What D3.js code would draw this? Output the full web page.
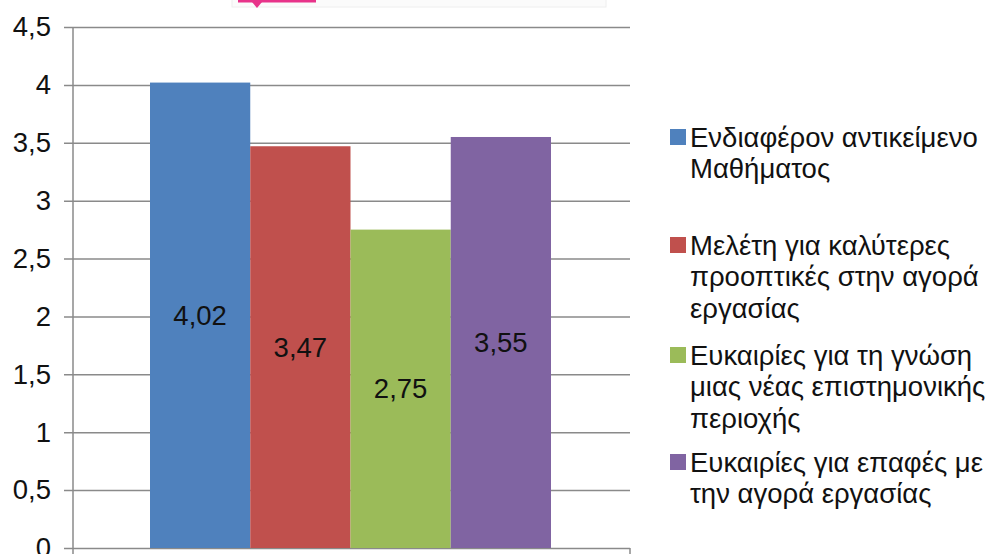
<!DOCTYPE html>
<html>
<head>
<meta charset="utf-8">
<script src="https://cdn.jsdelivr.net/npm/d3@7"></script>
<style>
  body { margin: 0; background: #fff; }
  svg { display: block; font-family: "Liberation Sans", Arial, sans-serif; }
</style>
</head>
<body>
<div class="barchart"></div>
<script>
const categories = [
    "Ενδιαφέρον αντικείμενο Μαθήματος",
    "Μελέτη για καλύτερες προοπτικές στην αγορά εργασίας",
    "Ευκαιρίες για τη γνώση μιας νέας επιστημονικής περιοχής",
    "Ευκαιρίες για επαφές με την αγορά εργασίας"
];
const values = [4.02, 3.47, 2.75, 3.55];
const colors = ["#4f81bd", "#c0504d", "#9bbb59", "#8064a2"];
const yTicks = [0, 0.5, 1, 1.5, 2, 2.5, 3, 3.5, 4, 4.5];
const legendLines = [
    ["Ενδιαφέρον αντικείμενο", "Μαθήματος"],
    ["Μελέτη για καλύτερες", "προοπτικές στην αγορά", "εργασίας"],
    ["Ευκαιρίες για τη γνώση", "μιας νέας επιστημονικής", "περιοχής"],
    ["Ευκαιρίες για επαφές με", "την αγορά εργασίας"]
];

const width = 997, height = 554;
const plot = {left: 73, right: 630, top: 27, bottom: 548};
const comma = d => String(d).replace(".", ",");

const svg = d3.select(".barchart")
    .append("svg")
    .attr("width", width)
    .attr("height", height);

// bit of a cropped box at the very top
svg.append("rect")
    .attr("x", 232).attr("y", -10)
    .attr("width", 374).attr("height", 17)
    .attr("fill", "#fbfbfb")
    .attr("stroke", "#eeeeee");
svg.append("line")
    .attr("x1", 238).attr("x2", 316)
    .attr("y1", 1).attr("y2", 1)
    .attr("stroke", "#e8338a").attr("stroke-width", 3);
svg.append("path")
    .attr("d", "M252,2 L262,2 L257,8 Z")
    .attr("fill", "#e8338a");

const y = d3.scaleLinear()
    .domain([0, 4.5])
    .range([plot.bottom, plot.top]);

const x = d3.scaleBand()
    .domain(categories)
    .range([150, 551])
    .padding(0);

// gridlines + ticks
svg.append("g")
    .attr("transform", `translate(${plot.left},0)`)
    .call(d3.axisLeft(y)
        .tickValues(yTicks)
        .tickSize(-(plot.right - plot.left))
        .tickPadding(22)
        .tickFormat(comma))
    .call(g => g.select(".domain").remove())
    .call(g => g.selectAll(".tick line")
        .attr("stroke", "#8a8a8a")
        .attr("x1", -9)
        .attr("stroke-width", 1.5))
    .call(g => g.selectAll(".tick text")
        .attr("font-size", 27.5)
        .attr("fill", "#111")
        .attr("font-family", "Liberation Sans, Arial, sans-serif"));

// axis lines
svg.append("line")
    .attr("x1", plot.left).attr("x2", plot.left)
    .attr("y1", plot.top).attr("y2", height)
    .attr("stroke", "#8a8a8a").attr("stroke-width", 1.5);
svg.append("line")
    .attr("x1", plot.right).attr("x2", plot.right)
    .attr("y1", plot.bottom).attr("y2", height)
    .attr("stroke", "#8a8a8a").attr("stroke-width", 1.5);

// bars
svg.append("g")
    .selectAll("rect")
    .data(values)
    .join("rect")
    .attr("x", (d, i) => x(categories[i]))
    .attr("y", d => y(d))
    .attr("width", x.bandwidth())
    .attr("height", d => y(0) - y(d))
    .attr("fill", (d, i) => colors[i]);

// value labels
svg.append("g")
    .attr("font-size", 27.5)
    .attr("text-anchor", "middle")
    .attr("fill", "#111")
    .selectAll("text")
    .data(values)
    .join("text")
    .attr("x", (d, i) => x(categories[i]) + x.bandwidth() / 2)
    .attr("y", d => (y(d) + y(0)) / 2)
    .attr("dy", "0.35em")
    .text(comma);

// legend
const legendY = [137, 245, 355, 462];
const legend = svg.append("g")
    .selectAll("g")
    .data(legendLines)
    .join("g")
    .attr("transform", (d, i) => `translate(670,${legendY[i]})`);

legend.append("rect")
    .attr("x", 0).attr("y", -8)
    .attr("width", 16).attr("height", 16)
    .attr("fill", (d, i) => colors[i]);

legend.append("text")
    .attr("font-size", 27.5)
    .attr("fill", "#111")
    .selectAll("tspan")
    .data(d => d)
    .join("tspan")
    .attr("x", 20)
    .attr("y", (d, j) => j * 31.5)
    .attr("dy", "0.35em")
    .text(d => d);
</script>
</body>
</html>
